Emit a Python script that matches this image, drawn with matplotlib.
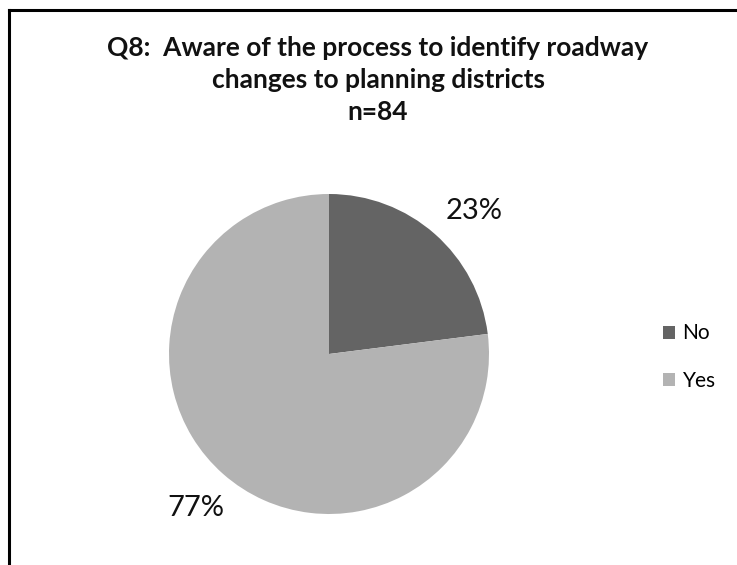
import numpy as np
import matplotlib

matplotlib.use("Agg")
import matplotlib.pyplot as plt
from matplotlib.lines import Line2D
from matplotlib.patches import Patch

# survey response split
labels = ["No", "Yes"]
shares = [23, 77]
colors = ["#646464", "#b3b3b3"]
title = "Q8:  Aware of the process to identify roadway\nchanges to planning districts\nn=84"

plt.rcParams["font.family"] = ["Lato", "DejaVu Sans"]

W, H = 737, 565
fig = plt.figure(figsize=(W / 100, H / 100), dpi=100)

# pie area: centre (329, 354) px, radius 160 px
cx, cy, r = 329, 354, 160
ax = fig.add_axes([(cx - r) / W, (H - cy - r) / H, 2 * r / W, 2 * r / H])
wedges, texts, autotexts = ax.pie(
    shares, colors=colors, startangle=90, counterclock=False,
    autopct="%d%%", pctdistance=1.27,
    textprops=dict(fontsize=21, color="#111111"),
)
# small label-angle offsets (best-fit placement)
for t, w, shift in zip(autotexts, wedges, [-4.0, 0.5]):
    ang = np.deg2rad(0.5 * (w.theta1 + w.theta2) + shift)
    t.set_position((1.27 * np.cos(ang), 1.27 * np.sin(ang)))
ax.set_xlim(-1, 1)
ax.set_ylim(-1, 1)
ax.set_aspect("equal")

fig.text(378 / W, 1 - 80 / H, title, ha="center", va="center",
         fontsize=19, fontweight="bold", linespacing=1.38, color="#111111")

handles = [Patch(facecolor=c, edgecolor="none") for c in colors]
fig.legend(handles, labels, loc="center left", bbox_to_anchor=(644 / W, 1 - 357 / H),
           frameon=False, fontsize=15, handlelength=0.6, handleheight=0.6,
           handletextpad=0.35, labelspacing=1.3)

# chart border (top and left edges only show in frame)
fig.add_artist(Line2D([9 / W, 1], [1 - 10 / H] * 2, color="black", lw=2.2,
                      transform=fig.transFigure))
fig.add_artist(Line2D([9 / W] * 2, [0, 1 - 10 / H], color="black", lw=2.2,
                      transform=fig.transFigure))

fig.savefig("out.png", dpi=100, facecolor="white")
